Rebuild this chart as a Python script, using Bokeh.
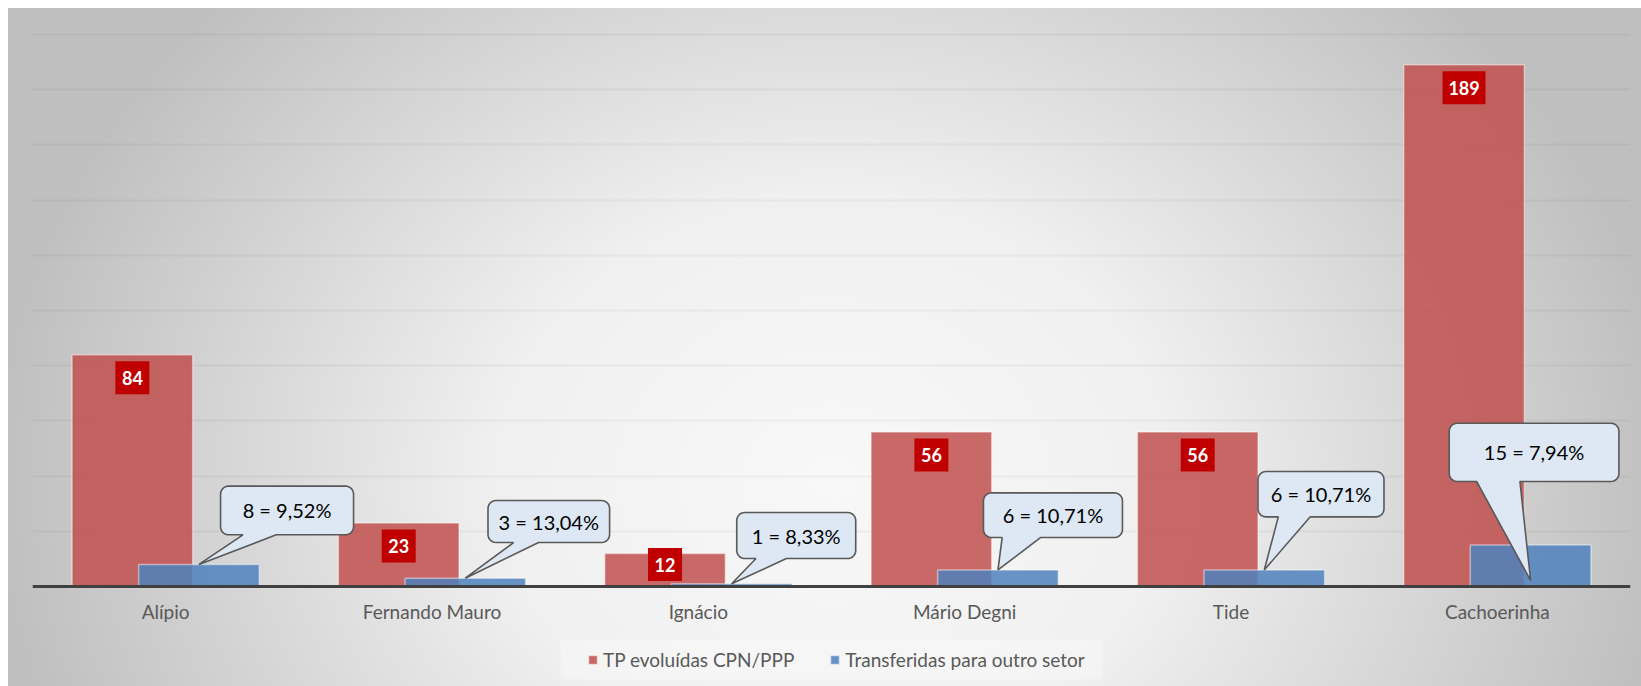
import numpy as np
from bokeh.plotting import figure
from bokeh.models import Range1d, FixedTicker, Grid, Legend, LegendItem, ColumnDataSource
from bokeh.core.properties import value
from bokeh.embed import file_html
from bokeh.resources import INLINE

# ---------------- data ----------------
categories = ["Alípio", "Fernando Mauro", "Ignácio", "Mário Degni", "Tide", "Cachoerinha"]
tp_evoluidas = [84, 23, 12, 56, 56, 189]
transferidas = [8, 3, 1, 6, 6, 15]
callout_texts = ["8 = 9,52%", "3 = 13,04%", "1 = 8,33%", "6 = 10,71%", "6 = 10,71%", "15 = 7,94%"]
series_names = ["TP evoluídas CPN/PPP", "Transferidas para outro setor"]
y_ticks = [20, 40, 60, 80, 100, 120, 140, 160, 180, 200]

# ---------------- layout (pixels) ----------------
W, H = 1641, 686
B_LEFT, B_RIGHT, B_TOP = 32, 11, 28
AXIS_Y = 586                      # page y of the value 0 line
TOP_Y = 34                        # page y of the value 200 line
FRAME_W = W - B_LEFT - B_RIGHT
Y_MAX = 200
PPX = FRAME_W / len(categories)   # px per category
PPY = (AXIS_Y - TOP_Y) / Y_MAX    # px per unit
Y_MIN = -(H - AXIS_Y) / PPY       # room below the axis for labels and legend
Y_TOP = Y_MAX + (TOP_Y - B_TOP) / PPY
BAR_W = 0.453
SHIFT = 0.125
FONT = "Lato"

# callout geometry in px relative to the pointer tip:
# (box-left dx, box-bottom dy up, width, height, base x0, base x1 from box left, tip fraction of bar)
callout_layout = [
    (21.6, 29.6, 133, 48.7, 22.4, 55.7, 1.0),
    (22.7, 35.7, 121.6, 42.0, 25.6, 50.6, 1.0),
    (5.1, 25.2, 119, 46.0, 19.3, 49.7, 1.0),
    (-14.5, 32.4, 139, 44.7, 18.7, 57.0, 1.0),
    (-6.3, 53.1, 126, 45.3, 20.3, 52.3, 1.0),
    (-81.4, 99.0, 169.7, 58.3, 27.4, 70.7, 0.145),
]

idx = np.arange(len(categories))
red_x = idx - SHIFT
blue_x = idx + SHIFT

p = figure(width=W, height=H, x_range=Range1d(-0.5, len(categories) - 0.5),
           y_range=Range1d(Y_MIN, Y_TOP), y_axis_type=None, title=None,
           output_backend="svg", toolbar_location=None,
           min_border_left=B_LEFT, min_border_right=B_RIGHT,
           min_border_top=B_TOP, min_border_bottom=0,
           border_fill_color=None, background_fill_color=None,
           outline_line_color=None)
p.styles = {
    "background-image": ("linear-gradient(#ffffff,#ffffff), linear-gradient(#ffffff,#ffffff), "
                         "radial-gradient(ellipse 840px 700px at 833px 478px, "
                         "#f8f8f8 0%, #f0f0f0 40%, #bfbfbf 100%)"),
    "background-size": "100% 8px, 8px 100%, 100% 100%",
    "background-position": "0 0, 0 0, 0 0",
    "background-repeat": "no-repeat, no-repeat, no-repeat",
}

p.xgrid.visible = False
grid = Grid(dimension=1, ticker=FixedTicker(ticks=y_ticks),
            grid_line_color="#000000", grid_line_alpha=0.04, grid_line_width=2)
p.add_layout(grid)

ax = p.xaxis[0]
ax.fixed_location = 0
ax.ticker = FixedTicker(ticks=list(idx))
ax.major_label_overrides = {int(i): c for i, c in zip(idx, categories)}
ax.major_tick_line_color = None
ax.minor_tick_line_color = None
ax.major_tick_out = 0
ax.major_tick_in = 0
ax.axis_line_color = "#404040"
ax.axis_line_width = 3
ax.major_label_standoff = 13
ax.major_label_text_font = FONT
ax.major_label_text_font_size = "19px"
ax.major_label_text_color = "#595959"

# legend backdrop (a faint lighter panel, as in the original)
p.rect(x=[(len(categories) - 1) / 2], y=[-(659 - AXIS_Y) / PPY], width=542, height=40,
       width_units="screen", height_units="screen",
       fill_color="#ffffff", fill_alpha=0.3, line_color=None)

red = p.vbar(x=red_x, top=tp_evoluidas, width=BAR_W, bottom=0,
             fill_color="#c0504d", fill_alpha=0.85,
             line_color="#ffffff", line_alpha=0.45, line_width=1.5)
blue = p.vbar(x=blue_x, top=transferidas, width=BAR_W, bottom=0,
              fill_color="#4f81bd", fill_alpha=0.85,
              line_color="#ffffff", line_alpha=0.45, line_width=1.5)

# red value labels (inside end, kept above the axis for short bars)
lab_src = ColumnDataSource(dict(
    x=red_x,
    y=[max(v - 23 / PPY, 22 / PPY) for v in tp_evoluidas],
    w=[16 + 9 * len(str(v)) for v in tp_evoluidas],
    t=[str(v) for v in tp_evoluidas],
))
p.rect(x="x", y="y", width="w", height=33, width_units="screen", height_units="screen",
       source=lab_src, fill_color="#c00000", line_color=None)
p.text(x="x", y="y", text="t", source=lab_src, text_color="white",
       text_font=value(FONT), text_font_style="bold", text_font_size="18px",
       text_align="center", text_baseline="middle")

# callouts
xs, ys, tx, ty = [], [], [], []
for i, (dxl, dyb, w, h, b0, b1, frac) in enumerate(callout_layout):
    tipx = blue_x[i]
    tipy = transferidas[i] * frac
    r = 8.0
    pts = [(b1, 0), (w - r, 0)]
    for a in np.linspace(-90, 0, 8):
        pts.append((w - r + r * np.cos(np.radians(a)), r + r * np.sin(np.radians(a))))
    for a in np.linspace(0, 90, 8):
        pts.append((w - r + r * np.cos(np.radians(a)), h - r + r * np.sin(np.radians(a))))
    for a in np.linspace(90, 180, 8):
        pts.append((r + r * np.cos(np.radians(a)), h - r + r * np.sin(np.radians(a))))
    for a in np.linspace(180, 270, 8):
        pts.append((r + r * np.cos(np.radians(a)), r + r * np.sin(np.radians(a))))
    pts.append((b0, 0))
    pts.append((-dxl, -dyb))
    xs.append([tipx + (dxl + u) / PPX for u, v in pts])
    ys.append([tipy + (dyb + v) / PPY for u, v in pts])
    tx.append(tipx + (dxl + w / 2) / PPX)
    ty.append(tipy + (dyb + h / 2) / PPY)

p.patches(xs=xs, ys=ys, fill_color="#dde8f4", line_color="#595959", line_width=1.6)
p.text(x=tx, y=ty, text=callout_texts, text_color="#000000", text_font=value(FONT),
       text_font_size="20px", text_align="center", text_baseline="middle")

legend = Legend(items=[LegendItem(label=series_names[0], renderers=[red]),
                       LegendItem(label=series_names[1], renderers=[blue])],
                orientation="horizontal", location=(555, 15),
                glyph_width=11, glyph_height=11, label_standoff=5, spacing=35,
                padding=8, margin=0,
                label_text_font=FONT, label_text_font_size="19px",
                label_text_color="#595959",
                background_fill_alpha=0, border_line_color=None)
p.add_layout(legend, "center")

open("out.html", "w").write(file_html(p, INLINE))
